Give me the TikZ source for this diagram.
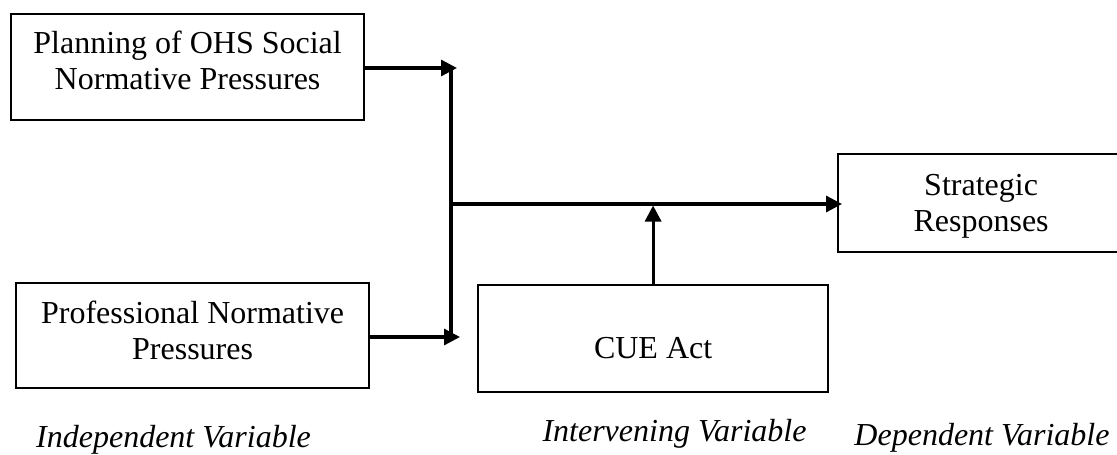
\documentclass[tikz,border=0pt]{standalone}
\usepackage{fontspec}
\setmainfont{Liberation Serif}
\usetikzlibrary{arrows.meta}
\begin{document}
\begin{tikzpicture}[x=1pt,y=-1pt,
  box/.style={draw, line width=2.2pt, inner xsep=0pt, inner ysep=0pt,
    align=center, anchor=north west, font=\fontsize{32}{36}\selectfont},
  link/.style={line width=3.2pt},
  arr/.style={link, -{Triangle[length=16pt,width=16pt]}},
  caption/.style={font=\fontsize{32}{36}\selectfont\itshape, anchor=base, inner sep=0pt}]
\useasboundingbox (0,0) rectangle (1117,455);

% variable boxes (text height/depth measured from the last line's baseline)
\node[box, minimum width=353pt, text height=75pt, text depth=31pt] (plan) at (10,13)
  {Planning of OHS Social\\Normative Pressures};
\node[box, minimum width=353pt, text height=76pt, text depth=29pt] (prof) at (15,282)
  {Professional Normative\\Pressures};
\node[box, minimum width=350pt, text height=73pt, text depth=34pt] (cue) at (477,284)
  {CUE Act};
\node[box, minimum width=286pt, text height=77pt, text depth=21pt] (strat) at (837,153)
  {Strategic\\Responses};

% junction points on the collecting line
\coordinate (top) at (451,68);
\coordinate (bot) at (451,337);
\coordinate (mid) at (451,204);

% connectors
\draw[arr] (plan.east |- top) -- ([xshift=6pt]top);
\draw[link] (top) -- (bot);
\draw[arr] (prof.east |- bot) -- ([xshift=9pt]bot);
\draw[arr] (mid) -- ([xshift=5pt]strat.west |- mid);
\draw[arr, shorten >=1.5pt] (cue.north) -- (cue.north |- mid);

% column captions
\node[caption] (iv) at (173.5,447) {Independent Variable};
\node[caption] (mv) at (674.5,441) {Intervening Variable};
\node[caption] (dv) at (982,445) {Dependent Variable};
\end{tikzpicture}
\end{document}
